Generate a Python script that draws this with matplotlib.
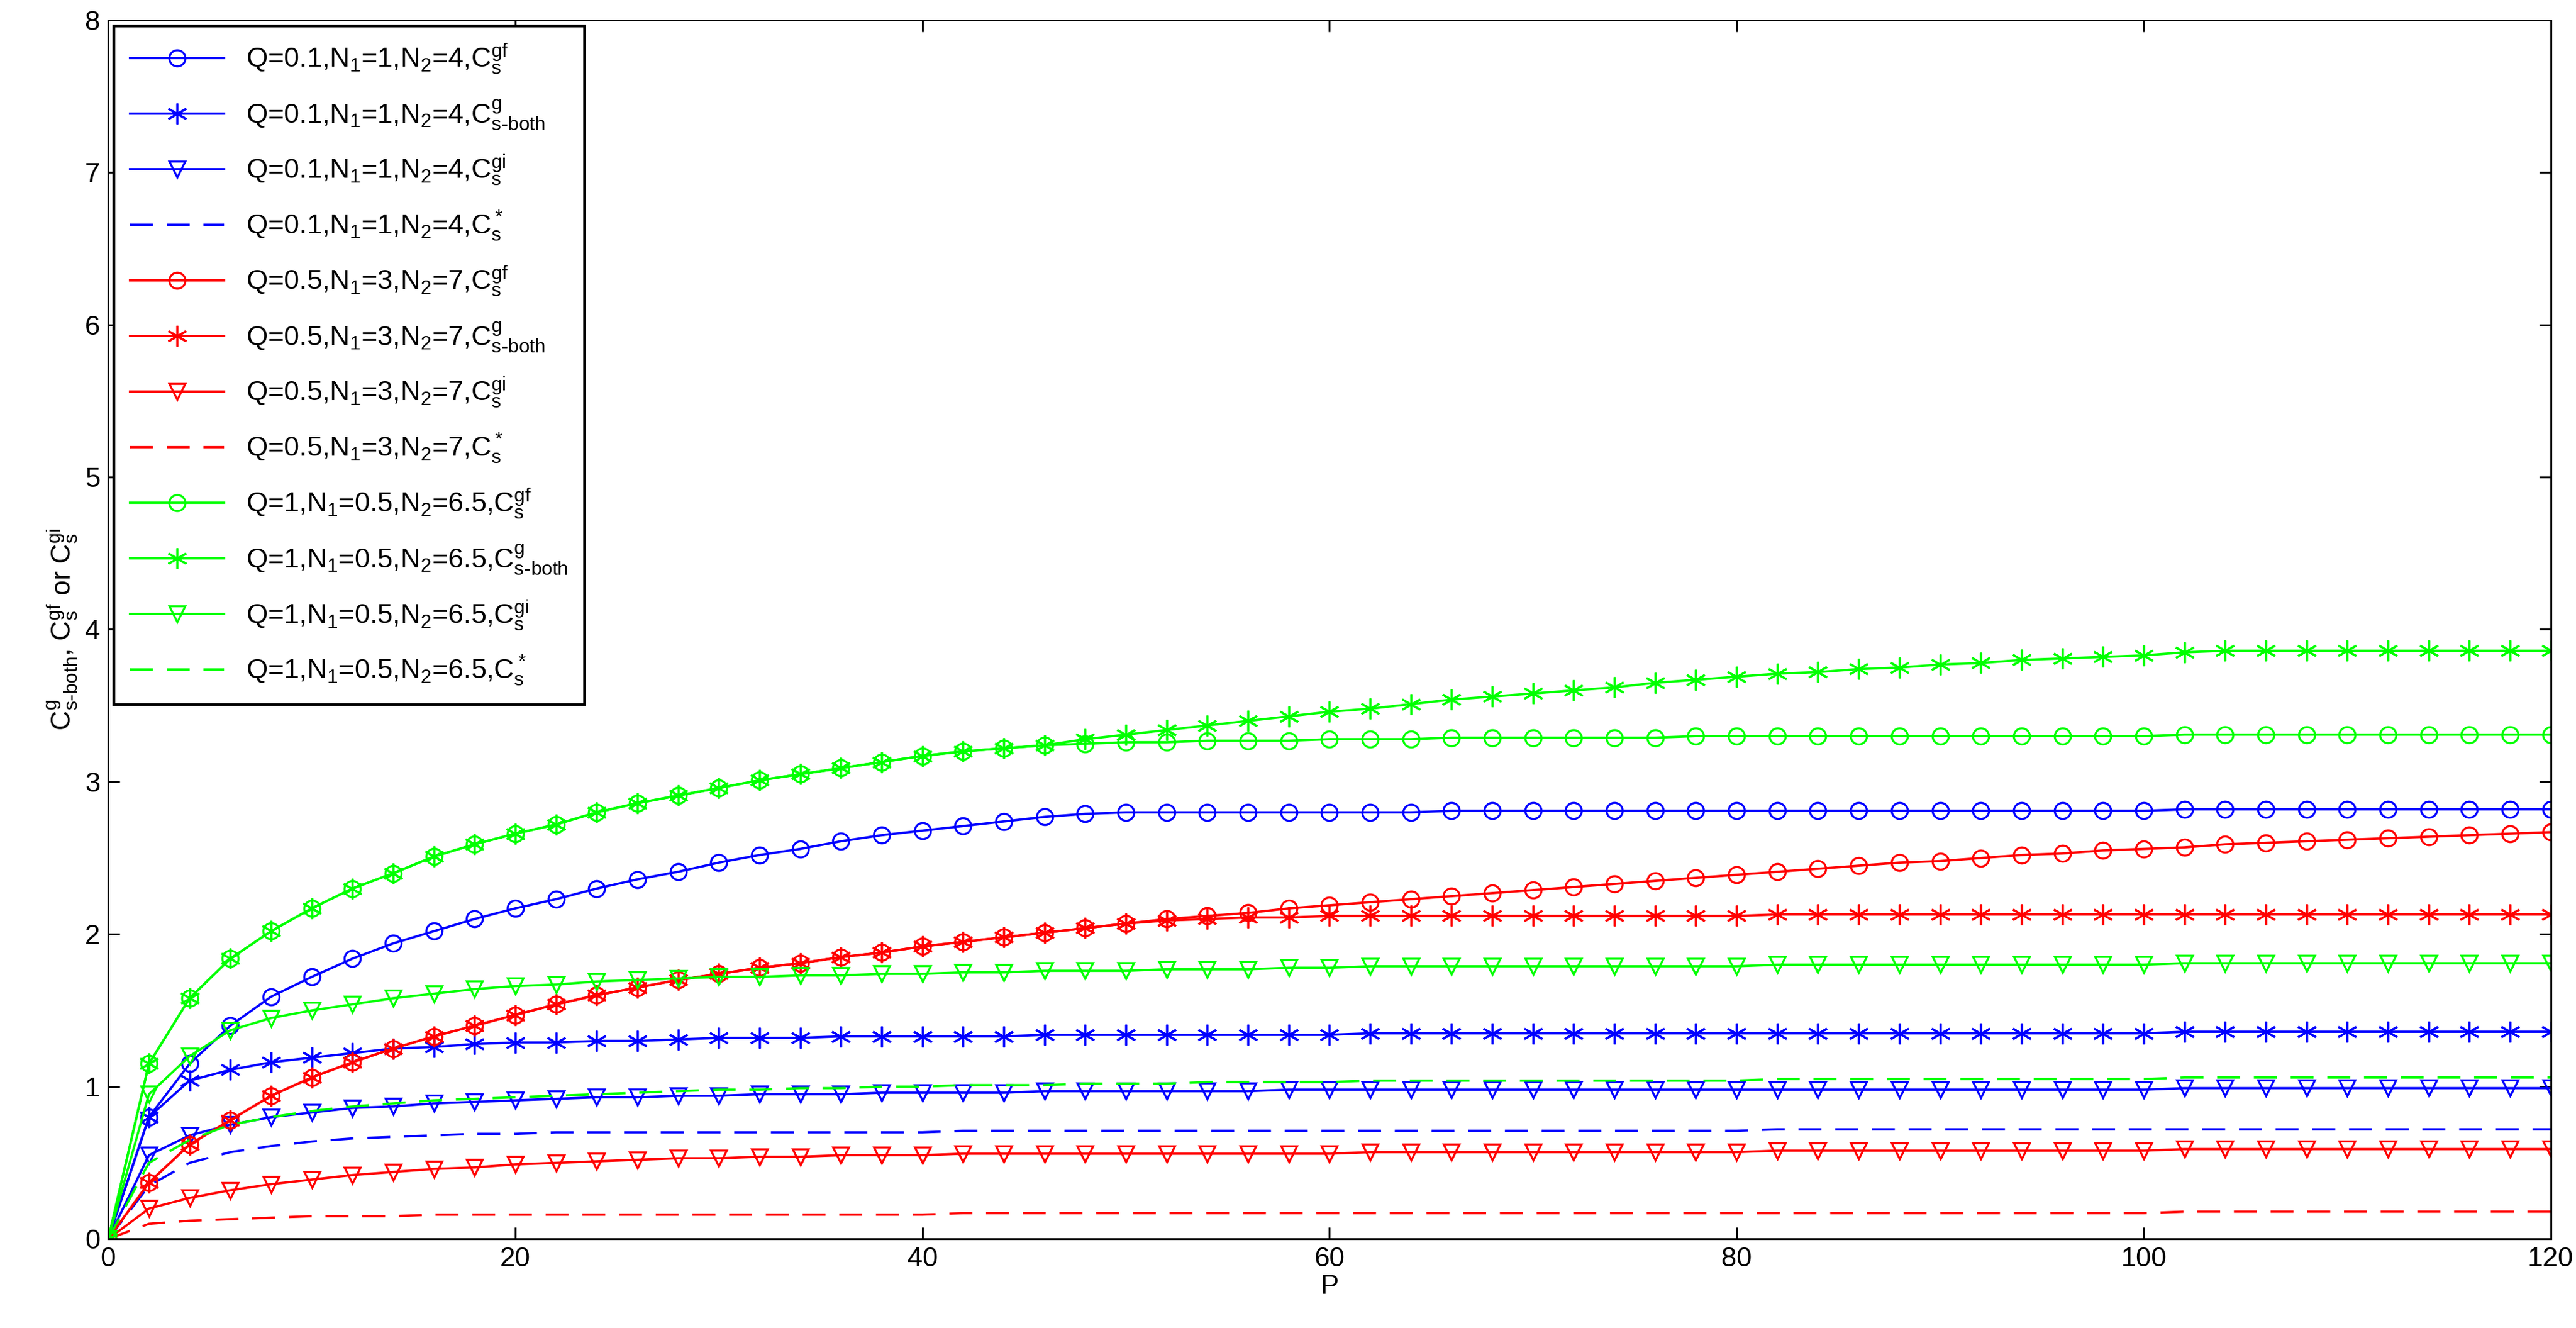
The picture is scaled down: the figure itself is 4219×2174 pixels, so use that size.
import matplotlib
matplotlib.use("Agg")
import matplotlib.pyplot as plt
import numpy as np

plt.rcParams["font.family"] = ["Liberation Sans", "DejaVu Sans"]
plt.rcParams["mathtext.default"] = "regular"

# P sampled every 2 units, 0..120
P = list(range(0, 121, 2))

blue_gf = ([0, .80, 1.15, 1.40, 1.59, 1.72, 1.84, 1.94, 2.02, 2.10, 2.17, 2.23, 2.30, 2.36, 2.41, 2.47,
            2.52, 2.56, 2.61, 2.65, 2.68, 2.71, 2.74, 2.77, 2.79, 2.80, 2.80, 2.80, 2.80, 2.80, 2.80]
           + [2.80, 2.80] + [2.81] * 18 + [2.82] * 10)
blue_both = ([0, .80, 1.04, 1.11, 1.16, 1.19, 1.22, 1.25, 1.26, 1.28, 1.29, 1.29, 1.30, 1.30, 1.31, 1.32,
              1.32, 1.32, 1.33, 1.33, 1.33, 1.33, 1.33, 1.34, 1.34, 1.34, 1.34, 1.34, 1.34, 1.34, 1.34]
             + [1.35] * 20 + [1.36] * 10)
blue_gi = ([0, .55, .68, .75, .80, .83, .86, .87, .89, .90, .91, .92, .93, .93, .94, .94,
            .95, .95, .95, .96, .96, .96, .96, .97, .97, .97, .97, .97, .97, .98, .98]
           + [.98] * 20 + [.99] * 10)
blue_star = ([0, .35, .50, .57, .61, .64, .66, .67, .68, .69, .69] + [.70] * 10 + [.71] * 20
             + [.72] * 20)

red_gf = [0, .37, .62, .78, .94, 1.06, 1.16, 1.25, 1.33, 1.40, 1.47, 1.54, 1.60, 1.65, 1.70, 1.74,
          1.78, 1.81, 1.85, 1.88, 1.92, 1.95, 1.98, 2.01, 2.04, 2.07, 2.10, 2.12, 2.14, 2.17, 2.19,
          2.21, 2.23, 2.25, 2.27, 2.29, 2.31, 2.33, 2.35, 2.37, 2.39,
          2.41, 2.43, 2.45, 2.47, 2.48, 2.50, 2.52, 2.53, 2.55, 2.56,
          2.57, 2.59, 2.60, 2.61, 2.62, 2.63, 2.64, 2.65, 2.66, 2.67]
red_both = red_gf[:26] + [2.09, 2.10, 2.11, 2.11, 2.12] + [2.12] * 10 + [2.13] * 20
red_gi = ([0, .20, .27, .32, .36, .39, .42, .44, .46, .47, .49, .50, .51, .52, .53, .53,
           .54, .54, .55, .55, .55] + [.56] * 10 + [.57] * 10 + [.58] * 10 + [.59] * 10)
red_star = [0, .10, .12, .13, .14, .15, .15, .15, .16, .16, .16] + [.16] * 10 + [.17] * 30 + [.18] * 10

green_head = [0, 1.15, 1.58, 1.84, 2.02, 2.17, 2.30, 2.40, 2.51, 2.59, 2.66, 2.72, 2.80, 2.86, 2.91,
              2.96, 3.01, 3.05, 3.09, 3.13, 3.17, 3.20, 3.22, 3.24]
green_gf = (green_head + [3.25, 3.26, 3.26, 3.27, 3.27, 3.27, 3.28]
            + [3.28, 3.28, 3.29, 3.29, 3.29, 3.29, 3.29, 3.29, 3.30, 3.30] + [3.30] * 10 + [3.31] * 10)
green_both = (green_head + [3.28, 3.31, 3.34, 3.37, 3.40, 3.43, 3.46]
              + [3.48, 3.51, 3.54, 3.56, 3.58, 3.60, 3.62, 3.65, 3.67, 3.69]
              + [3.71, 3.72, 3.74, 3.75, 3.77, 3.78, 3.80, 3.81, 3.82, 3.83]
              + [3.85] + [3.86] * 9)
green_gi = ([0, .95, 1.20, 1.37, 1.45, 1.50, 1.54, 1.58, 1.61, 1.64, 1.66, 1.67, 1.69, 1.70, 1.71, 1.72,
             1.72, 1.73, 1.73, 1.74, 1.74, 1.75, 1.75, 1.76, 1.76, 1.76, 1.77, 1.77, 1.77, 1.78, 1.78]
            + [1.79] * 10 + [1.80] * 10 + [1.81] * 10)
green_star = ([0, .50, .65, .75, .80, .84, .87, .89, .91, .92, .93, .94, .95, .96, .97, .98,
               .98, .99, .99, 1.00, 1.00, 1.01, 1.01, 1.01, 1.02, 1.02, 1.02, 1.03, 1.03, 1.03, 1.03]
              + [1.04] * 10 + [1.05] * 10 + [1.06] * 10)

groups = [
    ("blue", "Q=0.1,N$_1$=1,N$_2$=4,", [blue_gf, blue_both, blue_gi, blue_star]),
    ("red", "Q=0.5,N$_1$=3,N$_2$=7,", [red_gf, red_both, red_gi, red_star]),
    ("#00ff00", "Q=1,N$_1$=0.5,N$_2$=6.5,", [green_gf, green_both, green_gi, green_star]),
]
suffixes = ["C$_s^{gf}$", "C$^g_{s\\text{-}both}$", "C$_s^{gi}$", "C$_s^*$"]
# matlab-style asterisk: 6-armed star marker
styles = [("-", "o", 7), ("-", (6, 2, 0), 9), ("-", "v", 7), ((0, (10, 6)), None, 7)]

fig = plt.figure(figsize=(15.6, 8.037), dpi=270.5)
ax = fig.add_axes([0.042, 0.067, 0.948, 0.918])

for color, prefix, series in groups:
    for ys, suf, (ls, mk, ms) in zip(series, suffixes, styles):
        ax.plot(P, ys, color=color, linestyle=ls, marker=mk, markersize=ms,
                markerfacecolor="none", markeredgewidth=0.9, linewidth=1.0,
                label=prefix + suf)

ax.set_xlim(0, 120)
ax.set_ylim(0, 8)
ax.set_xticks(range(0, 121, 20))
ax.set_yticks(range(0, 9))
ax.tick_params(direction="in", labelsize=12, length=5, top=True, right=True,
               labeltop=False, labelright=False)
ax.set_xlabel("P", fontsize=12, labelpad=1)
ax.set_ylabel("C$^g_{s\\text{-}both}$, C$^{gf}_s$ or C$^{gi}_s$", fontsize=12, labelpad=2)

leg = ax.legend(loc="upper left", fontsize=12, numpoints=1, handlelength=3.4,
                labelspacing=0.78, fancybox=False, framealpha=1, borderaxespad=0.2,
                borderpad=0.6)
leg.get_frame().set_edgecolor("black")
leg.get_frame().set_linewidth(1.2)

fig.savefig("out.png", dpi=270.5)
